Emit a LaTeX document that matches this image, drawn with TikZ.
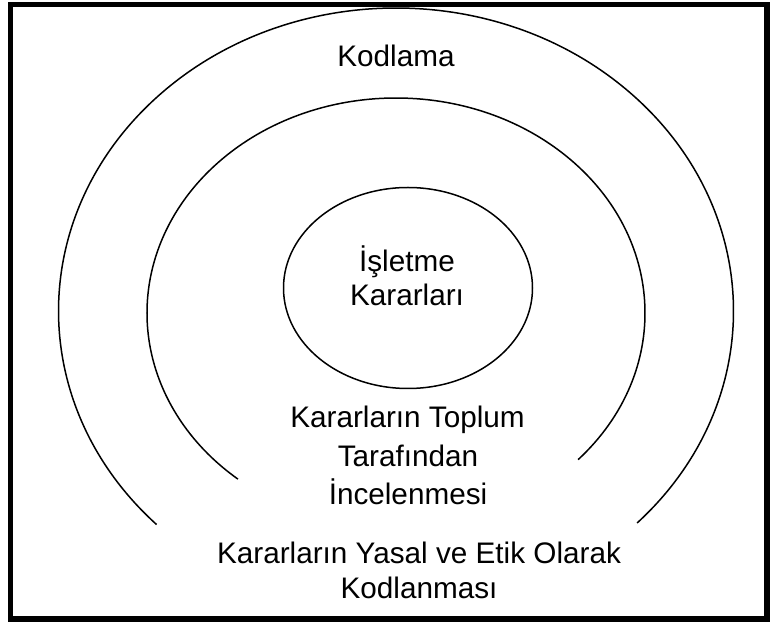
\documentclass[tikz,border=0pt]{standalone}
\usepackage{fontspec}
\setmainfont{Liberation Sans}
\begin{document}
\begin{tikzpicture}[x=1pt,y=1pt,
  frame/.style={line width=5.6pt},
  ring/.style={line width=1.5pt},
  label/.style={anchor=base,inner sep=0pt,font=\fontsize{29.7}{34}\selectfont}]
\useasboundingbox (0,0) rectangle (772,622);
% outer frame
\draw[frame] (10.3,3) rectangle (767,617.5);
% outer open ring
\draw[ring] (396,311) ++(-44.4:337.5pt and 303pt)
  arc[start angle=-44.4,end angle=224.8,x radius=337.5pt,y radius=303pt];
% inner open ring
\draw[ring] (396,309) ++(-43.0:249pt and 215pt)
  arc[start angle=-43.0,end angle=230.6,x radius=249pt,y radius=215pt];
% core ellipse
\draw[ring] (408,334) ellipse[x radius=124.5pt,y radius=100.5pt];
% labels
\node[label] (kod) at (396,555) {Kodlama};
\node[label] (isl1) at (407,350) {İşletme};
\node[label] (isl2) at (407,316) {Kararları};
\node[label] (top1) at (407.5,194) {Kararların Toplum};
\node[label] (top2) at (408,155.5) {Tarafından};
\node[label] (top3) at (408,117) {İncelenmesi};
\node[label] (yas1) at (419,59) {Kararların Yasal ve Etik Olarak};
\node[label] (yas2) at (419,23.5) {Kodlanması};
\end{tikzpicture}
\end{document}
